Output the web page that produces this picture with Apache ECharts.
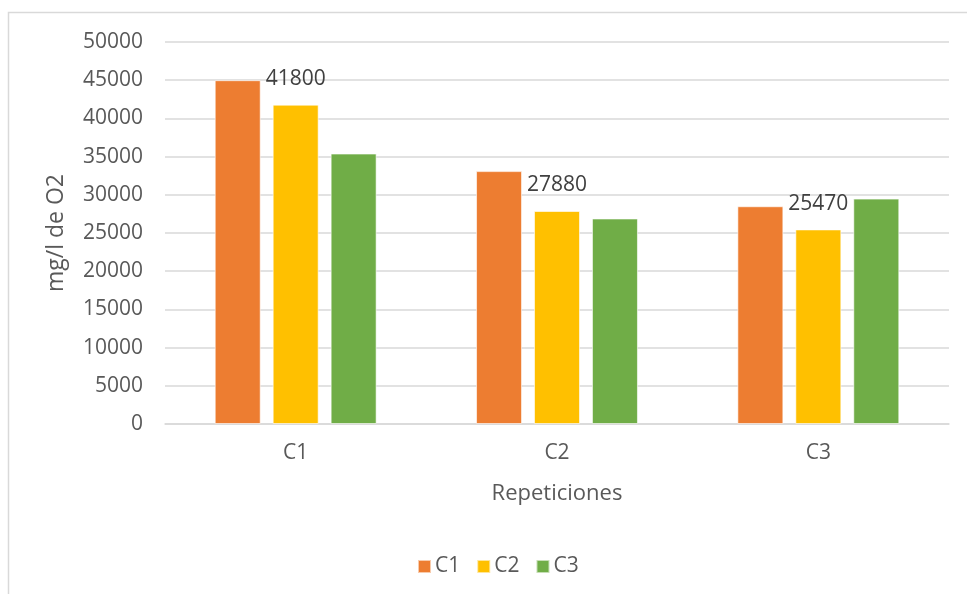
<!DOCTYPE html>
<html>
<head>
<meta charset="utf-8">
<style>
  html, body { margin: 0; padding: 0; background: #fff; }
  #chart { width: 967px; height: 594px; }
</style>
<script src="https://cdn.jsdelivr.net/npm/echarts@6/dist/echarts.min.js"></script>
</head>
<body>
<div id="chart"></div>
<script>
// Categories on the x axis
const categories = ['C1', 'C2', 'C3'];
// Series names shown in the legend
const seriesNames = ['C1', 'C2', 'C3'];
// Values for each series (mg/l de O2), one per category
const valuesC1 = [45000, 33100, 28500];
const valuesC2 = [41800, 27880, 25470];
const valuesC3 = [35400, 26900, 29500];
// Axis settings
const yMin = 0;
const yMax = 50000;
const yStep = 5000;

const colors = ['#ED7D31', '#FFC000', '#70AD47'];
const textColor = '#595959';
const gridColor = '#D9D9D9';
const fontFamily = '"Open Sans", "Noto Sans", sans-serif';

const chart = echarts.init(document.getElementById('chart'), null, { renderer: 'canvas' });

const seriesData = [valuesC1, valuesC2, valuesC3];

chart.setOption({
  animation: false,
  backgroundColor: '#fff',
  color: colors,
  textStyle: { fontFamily: fontFamily, color: textColor },
  graphic: [{
    type: 'rect',
    shape: { x: 8.5, y: 12.5, width: 1000, height: 700 },
    style: { fill: 'none', stroke: gridColor, lineWidth: 1.5 },
    silent: true,
    z: -1
  }],
  grid: { left: 165, right: 18, top: 42, bottom: 170 },
  legend: {
    data: seriesNames,
    left: 417,
    top: 556,
    padding: 0,
    icon: 'rect',
    itemWidth: 13,
    itemHeight: 13,
    itemGap: 16,
    textStyle: { fontSize: 21, color: textColor, fontFamily: fontFamily, padding: [0, 0, 0, -1] }
  },
  xAxis: {
    type: 'category',
    data: categories,
    name: 'Repeticiones',
    nameLocation: 'middle',
    nameGap: 59,
    nameTextStyle: { fontSize: 22, color: textColor, fontFamily: fontFamily },
    axisLine: { show: true, lineStyle: { color: gridColor, width: 1.5 } },
    axisTick: { show: false },
    axisLabel: { fontSize: 21, color: textColor, margin: 19, fontFamily: fontFamily }
  },
  yAxis: {
    type: 'value',
    min: yMin,
    max: yMax,
    interval: yStep,
    name: 'mg/l de O2',
    nameLocation: 'middle',
    nameGap: 97,
    nameTextStyle: { fontSize: 23, color: textColor, fontFamily: fontFamily },
    axisLine: { show: false },
    axisTick: { show: false },
    axisLabel: {
      fontSize: 21,
      color: textColor,
      margin: 22,
      fontFamily: fontFamily,
      formatter: (v) => String(v)
    },
    splitLine: { show: true, lineStyle: { color: gridColor, width: 1.5 } }
  },
  series: seriesNames.map((name, i) => ({
    name: name,
    type: 'bar',
    data: seriesData[i],
    barWidth: 46,
    barGap: '26%',
    itemStyle: { color: colors[i], borderColor: 'rgba(255,255,255,0.6)', borderWidth: 1 },
    label: i === 1 ? {
      show: true,
      position: 'top',
      distance: 15,
      fontSize: 21,
      color: '#404040',
      fontFamily: fontFamily
    } : { show: false }
  }))
});
</script>
</body>
</html>
